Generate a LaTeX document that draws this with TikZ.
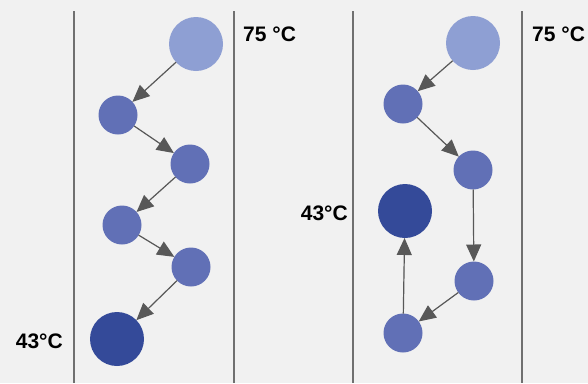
\documentclass[tikz,border=0pt]{standalone}
\usepackage{fontspec}
\setmainfont{Liberation Sans}
\usetikzlibrary{arrows.meta}
\definecolor{bg}{HTML}{F1F1F1}
\definecolor{hot}{HTML}{8E9FD3}
\definecolor{mid}{HTML}{6170B6}
\definecolor{cold}{HTML}{344A99}
\definecolor{wallgray}{HTML}{707070}
\definecolor{arrowgray}{HTML}{585858}
\begin{document}
\begin{tikzpicture}[x=1pt,y=-1pt,>={Triangle[length=17pt,width=15pt]},
  big/.style = {circle, inner sep=0pt, outer sep=0pt, minimum size=54pt},
  drop/.style = {circle, fill=mid, inner sep=0pt, outer sep=0pt, minimum size=39pt},
  flow/.style = {->, draw=arrowgray, fill=arrowgray, line width=1.2pt},
  wall/.style = {draw=wallgray, line width=1.2pt},
  temp/.style = {font=\fontsize{21}{25}\selectfont\bfseries, inner sep=0pt},]
\fill[bg] (0,0) rectangle (588,383);
% walls
\draw[wall] (74,11) -- (74,383);
\draw[wall] (234,11) -- (234,383);
\draw[wall] (353,11) -- (353,383);
\draw[wall] (522,11) -- (522,383);
% left column
\node (L1) at (196,44)[big,fill=hot] {};
\node (L2) at (118,115)[drop] {};
\node (L3) at (190,164)[drop] {};
\node (L4) at (122,225)[drop] {};
\node (L5) at (191,267)[drop] {};
\node (L6) at (117,339)[big,fill=cold] {};
\node (Lhot) at (243,34)[temp,anchor=west] {75 °C};
\node (Lcold) at (63,341)[temp,anchor=east] {43°C};
\draw[flow] (L1) -- (L2);
\draw[flow] (L2) -- (L3);
\draw[flow] (L3) -- (L4);
\draw[flow] (L4) -- (L5);
\draw[flow] (L5) -- (L6);
% right column
\node (R1) at (473,43)[big,fill=hot] {};
\node (R2) at (403,104)[drop] {};
\node (R3) at (473,170)[drop] {};
\node (R4) at (474,281)[drop] {};
\node (R5) at (403,333)[drop] {};
\node (R6) at (405,211)[big,fill=cold] {};
\node (Rhot) at (532,34)[temp,anchor=west] {75 °C};
\node (Rcold) at (348,213)[temp,anchor=east] {43°C};
\draw[flow] (R1) -- (R2);
\draw[flow] (R2) -- (R3);
\draw[flow] (R3) -- (R4);
\draw[flow] (R4) -- (R5);
\draw[flow] (R5) -- (R6);
\end{tikzpicture}
\end{document}
